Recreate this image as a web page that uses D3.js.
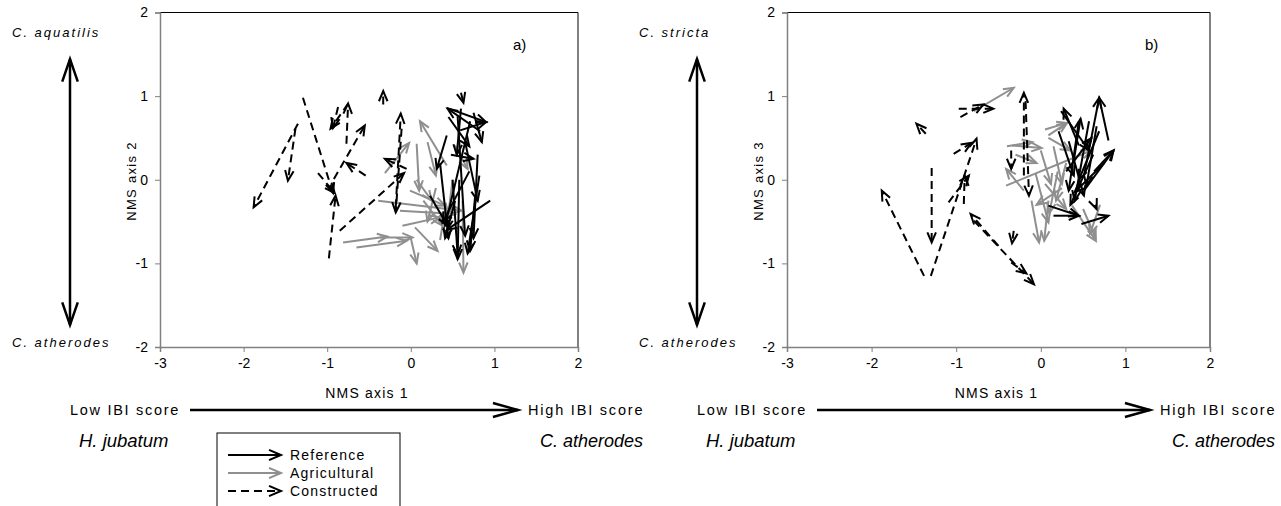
<!DOCTYPE html>
<html><head><meta charset="utf-8">
<script src="https://cdn.jsdelivr.net/npm/d3@7"></script>
<style>
body{margin:0;background:#fff;}
text{font-family:"Liberation Sans",Arial,sans-serif;fill:#000;}
</style></head>
<body><svg id="c" width="1281" height="506"></svg>
<script>
// ---- data (NMS scores: [x start, y start, x end, y end]) ----
const tickValuesX = [-3,-2,-1,0,1,2];
const tickValuesY = [-2,-1,0,1,2];
const groups = ["Reference","Agricultural","Constructed"];

const aRef = [
[0.43,0.86,0.90,0.69],[0.59,0.59,0.90,0.69],[0.83,0.58,0.44,0.85],[0.43,0.53,0.31,0.13],
[0.71,0.70,0.41,-0.55],[0.56,0.76,0.65,-0.67],[0.77,-0.19,0.71,-0.85],[0.50,0.00,0.56,-0.90],
[0.23,-0.19,0.44,-0.55],[0.95,-0.25,0.43,-0.60],[0.70,0.10,0.38,-0.51],[0.53,-0.25,0.41,-0.70],
[0.58,0.00,0.56,-0.95],[0.82,0.05,0.68,-0.88],[0.65,0.45,0.80,-0.25],[0.45,0.75,0.70,0.40],
[0.60,0.85,0.55,0.30],[0.75,0.80,0.85,0.45],[0.35,0.20,0.45,-0.70],[0.80,0.30,0.75,-0.70],
[0.48,0.30,0.75,0.25]];
const aAg = [
[-0.81,-0.75,-0.28,-0.68],[-0.65,-0.81,-0.05,-0.73],[-0.39,-0.25,0.61,-0.37],[0.43,0.17,0.11,0.70],
[-0.31,0.08,-0.02,0.44],[0.07,0.43,0.10,-0.13],[-0.37,-0.69,0.02,-0.69],[0.00,-0.70,0.07,-1.00],
[0.05,-0.57,0.32,-0.85],[0.62,-0.25,0.63,-1.11],[0.53,0.41,0.68,0.13],[-0.01,-0.13,0.41,-0.31],
[-0.13,-0.37,0.53,-0.41],[0.07,0.00,0.25,-0.25],[0.35,-0.72,0.41,-0.37],[0.20,0.45,0.30,0.05],
[-0.10,-0.55,0.35,-0.45],[0.15,-0.25,0.38,-0.55],[0.30,-0.10,0.20,-0.50],[0.50,0.00,0.45,-0.40]];
const aCon = [
[-1.29,0.98,-0.93,-0.16],[-0.98,-0.94,-0.90,-0.19],[-1.35,0.67,-1.88,-0.33],[-1.38,0.61,-1.47,-0.01],
[-0.92,0.01,-0.55,0.65],[-0.77,0.43,-0.75,0.91],[-0.75,0.91,-0.96,0.61],[-0.87,0.87,-0.93,0.62],
[-0.54,0.05,-0.77,0.20],[-0.85,-0.61,-0.08,0.08],[-0.33,0.90,-0.33,1.06],[-0.18,-0.33,-0.12,0.79],
[-0.11,0.61,-0.18,-0.39],[0.60,1.04,0.63,0.92],[-0.05,0.13,-0.31,0.25],[-1.11,0.08,-0.91,-0.16]];

const bRef = [
[0.51,0.05,0.69,0.98],[0.80,0.47,0.69,0.98],[0.45,0.41,0.27,0.85],[0.24,0.82,0.57,0.35],
[0.51,-0.13,0.86,0.35],[0.63,0.10,0.86,0.35],[0.09,-0.31,0.45,-0.43],[0.15,-0.43,0.45,-0.43],
[0.48,-0.53,0.80,-0.43],[0.45,0.70,0.33,-0.13],[0.57,0.70,0.40,-0.25],[0.33,0.46,0.51,-0.19],
[0.69,0.58,0.45,0.00],[0.39,0.23,0.47,0.73],[0.66,0.64,0.54,-0.07],[0.21,0.58,0.39,0.05],
[0.75,0.20,0.40,-0.15],[0.30,0.10,0.60,0.50],[0.62,0.30,0.35,-0.30],[0.64,-0.30,0.66,-0.35]];
const bAg = [
[-0.79,0.82,-0.32,1.10],[-0.20,-0.13,-0.41,0.13],[0.09,0.53,0.31,0.68],[0.05,0.60,0.31,0.68],
[-0.34,0.41,0.01,0.38],[0.09,0.50,0.35,0.35],[-0.41,-0.07,0.60,0.35],[-0.06,0.07,0.09,-0.51],
[-0.11,-0.25,-0.02,-0.75],[0.09,-0.25,0.04,-0.73],[0.37,-0.31,0.65,-0.73],[0.50,-0.35,0.65,-0.70],
[0.70,-0.30,0.58,-0.65],[0.00,0.35,0.12,-0.05],[0.20,0.10,0.10,-0.40],[0.15,0.40,0.25,-0.05],
[-0.30,0.30,-0.05,0.20],[0.05,-0.05,0.30,-0.35],[0.25,-0.10,-0.05,-0.30],[0.30,0.20,0.18,-0.25],
[-0.40,0.40,-0.10,0.45]];
const bCon = [
[-1.38,-1.15,-1.88,-0.13],[-1.30,-1.15,-0.76,0.49],[-1.29,0.14,-1.29,-0.75],[-1.36,0.55,-1.47,0.67],
[-0.97,0.85,-0.56,0.85],[-1.09,-0.27,-0.85,0.05],[-1.03,0.31,-0.82,0.44],[-0.50,-0.79,-0.83,-0.41],
[-0.79,-0.49,-0.08,-1.25],[-0.35,-0.99,-0.17,-1.12],[-0.20,0.05,-0.20,1.04],[-0.18,0.94,-0.14,-0.19],
[-0.35,0.35,-0.35,0.13],[-0.32,-0.61,-0.34,-0.76],[-0.91,-0.29,-0.90,0.05],[-0.95,0.75,-0.68,0.90]];

const panels = [
 {left:160,right:578,label:"a)",yTitle:"NMS axis 2",top:"C. aquatilis",bottom:"C. atherodes",ref:aRef,ag:aAg,con:aCon},
 {left:787,right:1210,label:"b)",yTitle:"NMS axis 3",top:"C. stricta",bottom:"C. atherodes",ref:bRef,ag:bAg,con:bCon}
];

const svg = d3.select("#c");
const style = {
 Reference:{color:"#000",dash:null},
 Agricultural:{color:"#8f8f8f",dash:null},
 Constructed:{color:"#000",dash:"8,5"}
};

function arrow(g,x1,y1,x2,y2,st,hl,ha,w){
  g.append("line").attr("x1",x1).attr("y1",y1).attr("x2",x2).attr("y2",y2)
   .attr("stroke",st.color).attr("stroke-width",w).attr("stroke-dasharray",st.dash);
  const a = Math.atan2(y2-y1,x2-x1);
  const p = [[x2-hl*Math.cos(a-ha),y2-hl*Math.sin(a-ha)],[x2,y2],[x2-hl*Math.cos(a+ha),y2-hl*Math.sin(a+ha)]];
  g.append("path").attr("d",d3.line()(p)).attr("fill","none")
   .attr("stroke",st.color).attr("stroke-width",w);
}

panels.forEach((P,i)=>{
  const x = d3.scaleLinear().domain([-3,2]).range([P.left,P.right]);
  const y = d3.scaleLinear().domain([-2,2]).range([347,12.5]);
  const g = svg.append("g");
  // frame top/right
  g.append("line").attr("x1",P.left).attr("x2",P.right).attr("y1",12.5).attr("y2",12.5).attr("stroke","#000");
  g.append("line").attr("x1",P.right).attr("x2",P.right).attr("y1",12.5).attr("y2",347).attr("stroke","#000");
  const ax = g.append("g").attr("transform","translate(0,347)")
    .call(d3.axisBottom(x).tickValues(tickValuesX).tickSize(5).tickPadding(6).tickFormat(d=>String(d)));
  const ay = g.append("g").attr("transform",`translate(${P.left},0)`)
    .call(d3.axisLeft(y).tickValues(tickValuesY).tickSize(5).tickPadding(7).tickFormat(d=>String(d)));
  [ax,ay].forEach(a=>{
    a.select(".domain").attr("stroke","#808080").attr("stroke-width",1.5);
    a.selectAll(".tick line").attr("stroke","#808080");
    a.selectAll("text").attr("font-size",14).attr("font-family","Liberation Sans, Arial").attr("fill","#000");
  });
  // data arrows
  const order = [["Agricultural",P.ag],["Constructed",P.con],["Reference",P.ref]];
  order.forEach(([k,arr])=>{
    const gg = g.append("g");
    arr.forEach(d=>arrow(gg,x(d[0]),y(d[1]),x(d[2]),y(d[3]),style[k],11,0.4,2));
  });
  // labels
  g.append("text").attr("x",P.right-65).attr("y",50).attr("font-size",15).text(P.label);
  const lx = P.left-148;
  g.append("text").attr("x",lx).attr("y",37).attr("font-size",13).attr("font-style","italic")
    .attr("letter-spacing",2).text(P.top);
  g.append("text").attr("x",lx).attr("y",347).attr("font-size",13).attr("font-style","italic")
    .attr("letter-spacing",2).text(P.bottom);
  g.append("text").attr("transform",`translate(${P.left-24},181) rotate(-90)`).attr("text-anchor","middle")
    .attr("font-size",13).attr("letter-spacing",1.3).text(P.yTitle);
  // vertical double arrow
  const vx = P.left-90, blk={color:"#000",dash:null};
  arrow(g,vx,190,vx,59,blk,24,0.33,2.5);
  arrow(g,vx,190,vx,325,blk,24,0.33,2.5);
  // x title
  const cx = (P.left+P.right)/2-2;
  g.append("text").attr("x",cx).attr("y",398).attr("text-anchor","middle").attr("font-size",14)
    .attr("letter-spacing",1.2).text("NMS axis 1");
  g.append("text").attr("x",P.left-90).attr("y",415).attr("font-size",14.5).attr("letter-spacing",1.7).text("Low IBI score");
  g.append("text").attr("x",P.right-50).attr("y",415).attr("font-size",14.5).attr("letter-spacing",1.8).text("High IBI score");
  arrow(g,P.left+30,410,P.right-60,410,blk,26,0.27,2.5);
  g.append("text").attr("x",P.left-81).attr("y",447).attr("font-size",18.5).attr("font-style","italic")
    .attr("font-family","Liberation Sans Narrow, Arial Narrow, Liberation Sans").text("H. jubatum");
  g.append("text").attr("x",P.right-38).attr("y",447).attr("font-size",18).attr("font-style","italic")
    .attr("font-family","Liberation Sans Narrow, Arial Narrow, Liberation Sans").text("C. atherodes");
});

// legend
const lg = svg.append("g");
lg.append("rect").attr("x",217).attr("y",433).attr("width",183).attr("height",90)
  .attr("fill","#fff").attr("stroke","#000");
groups.forEach((k,i)=>{
  const yy = 455 + i*18;
  arrow(lg,228,yy,281,yy,style[k],13,0.4,2);
  lg.append("text").attr("x",290).attr("y",yy+5).attr("font-size",14).attr("letter-spacing",1.2).text(k);
});
</script></body></html>
